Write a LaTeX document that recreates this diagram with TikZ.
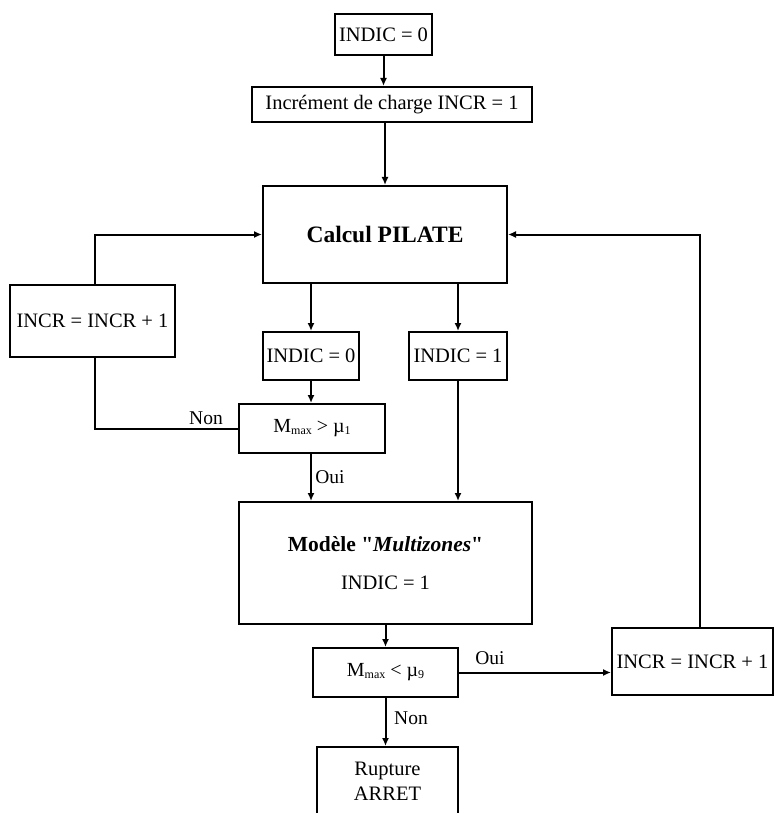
\documentclass[tikz,border=0pt]{standalone}
\usepackage{fontspec}
\setmainfont{Liberation Serif}
\usetikzlibrary{arrows.meta}
\newcommand{\mysub}[1]{\raisebox{-1.5pt}{\fontsize{12}{12}\selectfont #1}}
\begin{document}
\begin{tikzpicture}[x=1pt,y=-1pt,
  box/.style={draw, line width=2pt, inner sep=0pt, font=\fontsize{20.5}{25}\selectfont, align=center},
  arr/.style={line width=2pt, -{Latex[length=8pt,width=7pt]}},
  ln/.style={line width=2pt},
  lbl/.style={font=\fontsize{19.5}{22}\selectfont, inner sep=0pt}]
\useasboundingbox (0,0) rectangle (779,813);
% boxes
\node[box, minimum width=97pt, minimum height=41pt] (top) at (383.5,34.5) {INDIC = 0};
\node[box, minimum width=280pt, minimum height=35pt] (incr) at (392,104.5) {Incrément de charge INCR = 1};
\node[box, minimum width=244pt, minimum height=97pt, font=\bfseries\fontsize{23.5}{28}\selectfont] (calc) at (385,234.5) {Calcul PILATE};
\node[box, minimum width=165pt, minimum height=72pt] (incl) at (92.5,321) {INCR = INCR + 1};
\node[box, minimum width=96pt, minimum height=48pt] (i0) at (311,356) {INDIC = 0};
\node[box, minimum width=98pt, minimum height=48pt] (i1) at (458,356) {INDIC = 1};
\node[box, minimum width=146pt, minimum height=49pt, font=\fontsize{20}{22}\selectfont] (m1) at (312,428.5) {M\mysub{max} > µ\mysub{1}};
\node[box, minimum width=293pt, minimum height=122pt] (mod) at (385.5,563) {{\bfseries\fontsize{21.5}{25}\selectfont Modèle \textquotedbl\textit{Multizones}\textquotedbl}\\[13pt] INDIC = 1};
\node[box, minimum width=145pt, minimum height=49pt, font=\fontsize{20}{22}\selectfont] (m9) at (385.5,672.5) {M\mysub{max} < µ\mysub{9}};
\node[box, minimum width=161pt, minimum height=67pt] (incrr) at (692.5,661.5) {INCR = INCR + 1};
\node[box, minimum width=141pt, minimum height=68pt] (rup) at (387.5,781) {Rupture\\ARRET};
% helper coordinates
\coordinate (lt) at (95,234.5);
\coordinate (rt) at (700,234.5);
% connectors
\draw[arr] (top.south) -- (top.south |- incr.north);
\draw[arr] (calc.north |- incr.south) -- (calc.north);
\draw[arr] (i0.north |- calc.south) -- (i0.north);
\draw[arr] (i1.north |- calc.south) -- (i1.north);
\draw[arr] (i0.south) -- (i0.south |- m1.north);
\draw[arr] (i0.south |- m1.south) -- (i0.south |- mod.north);
\draw[arr] (i1.south) -- (i1.south |- mod.north);
\draw[arr] (mod.south) -- (mod.south |- m9.north);
\draw[arr] (mod.south |- m9.south) -- (mod.south |- rup.north);
\draw[arr] (m9.east) -- (m9.east -| incrr.west);
\draw[arr] (rt |- incrr.north) -- (rt) -- (calc.east);
\draw[arr] (lt |- incl.north) -- (lt) -- (calc.west);
\draw[ln] (m1.west) -| (lt |- incl.south);
% labels
\node[lbl] (nonA) at (206,418) {Non};
\node[lbl] (ouiA) at (330,477) {Oui};
\node[lbl] (ouiB) at (490,658) {Oui};
\node[lbl] (nonB) at (411,718) {Non};
\end{tikzpicture}
\end{document}
